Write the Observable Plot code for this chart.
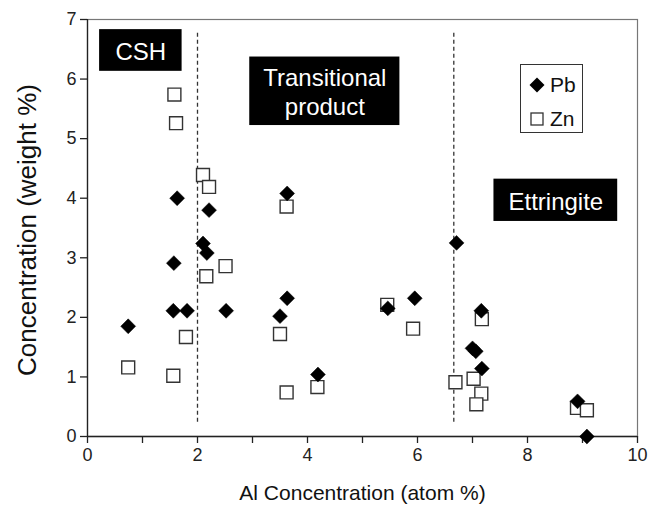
<!DOCTYPE html>
<html>
<head>
<meta charset="utf-8">
<script src="https://cdn.jsdelivr.net/npm/d3@7"></script>
<script src="https://cdn.jsdelivr.net/npm/@observablehq/plot@0.6"></script>
<style>
  html, body { margin: 0; padding: 0; background: #fff; }
  #chart { position: relative; width: 663px; height: 505px; font-family: "Liberation Sans", Arial, sans-serif; }
  #legend {
    position: absolute; left: 520px; top: 64px; width: 63px; height: 69px;
    border: 1px solid #333; background: #fff; box-sizing: border-box;
    font-size: 21px; color: #111;
  }
  #legend .row { position: absolute; left: 8px; display: flex; align-items: center; gap: 5px; line-height: 24px; }
</style>
</head>
<body>
<div id="chart"></div>
<script>
// Pb and Zn content versus Al content of the hydration products
const pbAl   = [0.74, 1.57, 1.56, 1.81, 2.52, 3.50, 3.63, 4.19, 1.63, 2.21, 3.63, 2.10, 2.17, 5.46, 5.95, 7.16, 7.00, 7.06, 7.17, 8.91, 9.08, 6.71];
const pbConc = [1.85, 2.91, 2.11, 2.11, 2.11, 2.02, 2.32, 1.04, 4.00, 3.80, 4.08, 3.24, 3.08, 2.15, 2.32, 2.11, 1.48, 1.43, 1.14, 0.59, 0.00, 3.25];

const znAl   = [1.58, 1.61, 2.10, 2.21, 3.62, 0.74, 1.56, 1.79, 2.16, 2.51, 3.50, 3.62, 4.18, 5.45, 5.92, 7.17, 6.69, 7.02, 7.16, 7.07, 8.90, 9.08];
const znConc = [5.74, 5.26, 4.39, 4.19, 3.86, 1.16, 1.02, 1.67, 2.69, 2.86, 1.72, 0.74, 0.83, 2.21, 1.81, 1.97, 0.91, 0.97, 0.72, 0.54, 0.48, 0.44];

// phase boundaries (atom % Al)
const boundaries = [2.0, 6.66];

// phase labels and their extents in axis units
const phaseNames = ["CSH", "Transitional\nproduct", "Ettringite"];
const phaseX1 = [0.22, 2.95, 7.39];
const phaseX2 = [1.72, 5.68, 9.64];
const phaseY1 = [6.13, 5.22, 3.61];
const phaseY2 = [6.83, 6.37, 4.32];

const xTicks = d3.range(0, 11);
const yTicks = d3.range(0, 8);
const xTitle = "Al Concentration (atom %)";
const yTitle = "Concentration (weight %)";

const pb = pbAl.map((x, i) => ({x, y: pbConc[i]}));
const zn = znAl.map((x, i) => ({x, y: znConc[i]}));
const phases = phaseNames.map((name, i) => ({name, x1: phaseX1[i], x2: phaseX2[i], y1: phaseY1[i], y2: phaseY2[i]}));

const font = "'Liberation Sans', Arial, sans-serif";

const chart = Plot.plot({
  width: 663,
  height: 505,
  marginLeft: 87,
  marginRight: 26,
  marginTop: 19,
  marginBottom: 69,
  style: {fontFamily: font, fontSize: "17px", color: "#222", background: "#fff"},
  x: {domain: [0, 10]},
  y: {domain: [0, 7]},
  marks: [
    Plot.frame({stroke: "#777", strokeWidth: 1.2}),
    Plot.axisX({
      ticks: xTicks, tickSize: 7, tickPadding: 5, tickFormat: d => d % 2 === 0 ? d : "",
      fontSize: 18, stroke: "#222", strokeWidth: 1.3, label: null
    }),
    Plot.axisY({
      ticks: yTicks, tickSize: 7, tickPadding: 4, tickFormat: d3.format("d"),
      fontSize: 18, stroke: "#222", strokeWidth: 1.3, label: null
    }),
    Plot.text([xTitle], {frameAnchor: "bottom", dy: 57, text: d => d, fontSize: 21, fill: "#111", lineAnchor: "middle"}),
    Plot.text([yTitle], {frameAnchor: "left", dx: -60, dy: 2, rotate: -90, text: d => d, fontSize: 26, fill: "#111", textAnchor: "middle", lineAnchor: "middle"}),
    Plot.ruleX([0], {stroke: "#222", strokeWidth: 1.3}),
    Plot.ruleY([0], {stroke: "#222", strokeWidth: 1.3}),
    Plot.ruleX(boundaries, {y1: 0.24, y2: 6.81, stroke: "#333", strokeWidth: 1.3, strokeDasharray: "4,3"}),
    Plot.rect(phases, {x1: "x1", x2: "x2", y1: "y1", y2: "y2", fill: "#000"}),
    Plot.text(phases, {
      x: d => (d.x1 + d.x2) / 2, y: d => (d.y1 + d.y2) / 2, text: "name",
      fill: "#fff", fontSize: 24, lineHeight: 1.2, textAnchor: "middle"
    }),
    Plot.dot(zn, {x: "x", y: "y", symbol: "square", r: 7.3, fill: "#fff", stroke: "#333", strokeWidth: 1.4}),
    Plot.dot(pb, {x: "x", y: "y", symbol: "diamond2", r: 6.7, fill: "#000", stroke: "#000", strokeWidth: 0.5})
  ]
});

const host = document.getElementById("chart");
host.appendChild(chart);

// series key
const legend = document.createElement("div");
legend.id = "legend";
legend.innerHTML = `
  <div class="row" style="top:8px">
    <svg width="16" height="24" viewBox="-8 -12 16 24"><path d="M0,-7.5L7.5,0L0,7.5L-7.5,0Z" fill="#000"/></svg>
    <span>Pb</span>
  </div>
  <div class="row" style="top:42px">
    <svg width="16" height="24" viewBox="-8 -12 16 24"><rect x="-6" y="-6" width="12" height="12" fill="#fff" stroke="#333" stroke-width="1.3"/></svg>
    <span>Zn</span>
  </div>`;
host.appendChild(legend);
</script>
</body>
</html>
